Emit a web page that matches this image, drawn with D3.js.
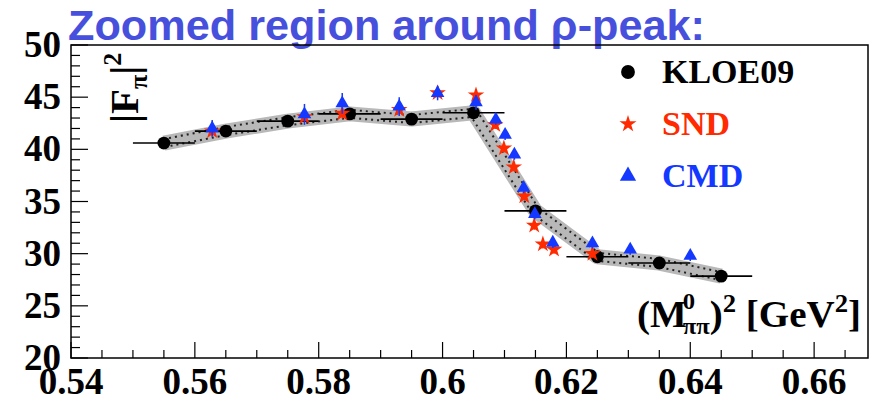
<!DOCTYPE html>
<html>
<head>
<meta charset="utf-8">
<script src="https://cdn.jsdelivr.net/npm/d3@7"></script>
<style>
  html, body { margin: 0; padding: 0; background: #fff; }
  svg { display: block; }
</style>
</head>
<body>
<svg id="chart" width="878" height="402"></svg>
<script>
// ---------------- data ----------------
const kloeX = [0.555, 0.565, 0.575, 0.585, 0.595, 0.605, 0.615, 0.625, 0.635, 0.645];
const kloeY = [40.6, 41.75, 42.7, 43.4, 42.9, 43.5, 34.1, 29.7, 29.1, 27.85];
const kloeHalfBin = [0.005, 0.005, 0.005, 0.005, 0.005, 0.005, 0.005, 0.005, 0.005, 0.005];

const sndX = [0.5628, 0.5777, 0.5838, 0.593, 0.5992, 0.6054, 0.6085, 0.6099, 0.6115, 0.6132, 0.6148, 0.6162, 0.618, 0.6242];
const sndY = [41.75, 43.1, 43.45, 43.8, 45.4, 45.2, 42.35, 40.1, 38.3, 35.5, 32.7, 30.9, 30.4, 30.0];
const sndErr = [0.5, 0.5, 0.5, 0.5, 0.5, 0.5, 0.4, 0.4, 0.4, 0.4, 0.4, 0.4, 0.4, 0.4];

const cmdX = [0.5628, 0.5777, 0.5838, 0.593, 0.5992, 0.6054, 0.6086, 0.6101, 0.6116, 0.6131, 0.6149, 0.6178, 0.6242, 0.6303, 0.640];
const cmdY = [42.0, 43.35, 44.4, 44.1, 45.4, 44.5, 42.85, 41.4, 39.5, 36.3, 33.8, 31.05, 31.0, 30.4, 29.8];
const cmdErr = [0.8, 1.0, 1.0, 0.9, 0.7, 0.7, 0.5, 0.5, 0.5, 0.5, 0.5, 0.5, 0.5, 0.5, 0.5];

const xMajorTicks = [0.54, 0.56, 0.58, 0.60, 0.62, 0.64, 0.66];
const xTickLabels = ["0.54", "0.56", "0.58", "0.6", "0.62", "0.64", "0.66"];
const yMajorTicks = [20, 25, 30, 35, 40, 45, 50];
const yTickLabels = ["20", "25", "30", "35", "40", "45", "50"];
const legendNames = ["KLOE09", "SND", "CMD"];

// ---------------- layout ----------------
const svg = d3.select("#chart");
const L = 71, R = 868, T = 45, B = 358;
const x = d3.scaleLinear().domain([0.54, 0.6687]).range([L, R]);
const y = d3.scaleLinear().domain([20, 50]).range([B, T]);

const RED = "#ff2a00", BLUE = "#1438ff", TITLE = "#4750dc";
const serif = "'Liberation Serif','DejaVu Serif',serif";

// title
svg.append("text")
  .attr("x", 68).attr("y", 40)
  .attr("font-family", "'Liberation Sans',Arial,sans-serif")
  .attr("font-weight", "bold").attr("font-size", 42)
  .attr("fill", TITLE)
  .attr("textLength", 637).attr("lengthAdjust", "spacingAndGlyphs")
  .text("Zoomed region around \u03C1-peak:");

// ---------------- band ----------------
const pts = kloeX.map((d, i) => [d, kloeY[i]]);
const bandLine = d3.line().x(d => x(d[0])).y(d => y(d[1])).curve(d3.curveLinear);
const g = svg.append("g");
g.append("path").attr("d", bandLine(pts)).attr("fill", "none")
  .attr("stroke", "#b8b8b8").attr("stroke-width", 15).attr("stroke-linejoin", "round");
g.append("path").attr("d", bandLine(pts)).attr("fill", "none")
  .attr("stroke", "#222").attr("stroke-width", 10).attr("stroke-dasharray", "2,4")
  .attr("stroke-linejoin", "round");
g.append("path").attr("d", bandLine(pts)).attr("fill", "none")
  .attr("stroke", "#b8b8b8").attr("stroke-width", 6).attr("stroke-linejoin", "round");

// ---------------- KLOE ----------------
svg.append("g").selectAll("line").data(kloeX).join("line")
  .attr("x1", (d, i) => x(d - kloeHalfBin[i])).attr("x2", (d, i) => x(d + kloeHalfBin[i]))
  .attr("y1", (d, i) => y(kloeY[i])).attr("y2", (d, i) => y(kloeY[i]))
  .attr("stroke", "#000").attr("stroke-width", 1.6);
svg.append("g").selectAll("path").data(kloeX).join("path")
  .attr("d", d3.symbol(d3.symbolCircle, 130)())
  .attr("transform", (d, i) => `translate(${x(d)},${y(kloeY[i])})`)
  .attr("fill", "#000");

// ---------------- SND ----------------
svg.append("g").selectAll("line").data(sndX).join("line")
  .attr("x1", d => x(d)).attr("x2", d => x(d))
  .attr("y1", (d, i) => y(sndY[i] - sndErr[i])).attr("y2", (d, i) => y(sndY[i] + sndErr[i]))
  .attr("stroke", RED).attr("stroke-width", 1.5);
svg.append("g").selectAll("path").data(sndX).join("path")
  .attr("d", d3.symbol(d3.symbolStar, 85)())
  .attr("transform", (d, i) => `translate(${x(d)},${y(sndY[i])})`)
  .attr("fill", RED);

// ---------------- CMD ----------------
svg.append("g").selectAll("line").data(cmdX).join("line")
  .attr("x1", d => x(d)).attr("x2", d => x(d))
  .attr("y1", (d, i) => y(cmdY[i] - cmdErr[i])).attr("y2", (d, i) => y(cmdY[i] + cmdErr[i]))
  .attr("stroke", BLUE).attr("stroke-width", 1.5);
svg.append("g").selectAll("path").data(cmdX).join("path")
  .attr("d", d3.symbol(d3.symbolTriangle, 80)())
  .attr("transform", (d, i) => `translate(${x(d)},${y(cmdY[i])})`)
  .attr("fill", BLUE);

// ---------------- frame & axes ----------------
svg.append("rect").attr("x", L).attr("y", T).attr("width", R - L).attr("height", B - T)
  .attr("fill", "none").attr("stroke", "#000").attr("stroke-width", 1.5);

const xMinor = d3.range(0, 26).map(i => 0.54 + i * 0.005);
svg.append("g").selectAll("line").data(xMinor).join("line")
  .attr("x1", d => x(d)).attr("x2", d => x(d))
  .attr("y1", B).attr("y2", (d, i) => i % 4 === 0 ? B - 16 : B - 8)
  .attr("stroke", "#000").attr("stroke-width", 1.2);
const yMinor = d3.range(20, 51);
svg.append("g").selectAll("line").data(yMinor).join("line")
  .attr("y1", d => y(d)).attr("y2", d => y(d))
  .attr("x1", L).attr("x2", d => d % 5 === 0 ? L + 17 : L + 9)
  .attr("stroke", "#000").attr("stroke-width", 1.2);

svg.append("g").selectAll("text").data(xMajorTicks).join("text")
  .attr("x", d => x(d)).attr("y", 394)
  .attr("text-anchor", "middle")
  .attr("font-family", serif).attr("font-weight", "bold").attr("font-size", 37)
  .text((d, i) => xTickLabels[i]);
svg.append("g").selectAll("text").data(yMajorTicks).join("text")
  .attr("x", 61).attr("y", d => y(d) + 12)
  .attr("text-anchor", "end")
  .attr("font-family", serif).attr("font-weight", "bold").attr("font-size", 37)
  .text((d, i) => yTickLabels[i]);

// y title |F_pi|^2
const yt = svg.append("text")
  .attr("transform", "translate(138,123) rotate(-90)")
  .attr("font-family", serif).attr("font-weight", "bold").attr("font-size", 41);
yt.append("tspan").text("|F");
yt.append("tspan").attr("font-size", 26).attr("dy", 9).text("\u03C0");
yt.append("tspan").attr("dy", -9).text("|");
yt.append("tspan").attr("font-size", 26).attr("dy", -17).text("2");

// x title (M^0_pipi)^2 [GeV^2]
const xt = svg.append("text")
  .attr("x", 637).attr("y", 327)
  .attr("font-family", serif).attr("font-weight", "bold").attr("font-size", 38)
  .attr("textLength", 224).attr("lengthAdjust", "spacingAndGlyphs");
xt.append("tspan").text("(M");
xt.append("tspan").attr("font-size", 24).attr("dy", -18).attr("dx", -4).text("0");
xt.append("tspan").attr("font-size", 24).attr("dy", 25).attr("dx", -12).text("\u03C0\u03C0");
xt.append("tspan").attr("dy", -7).text(")");
xt.append("tspan").attr("font-size", 26).attr("dy", -15).text("2");
xt.append("tspan").attr("dy", 15).text(" [GeV");
xt.append("tspan").attr("font-size", 26).attr("dy", -15).text("2");
xt.append("tspan").attr("dy", 15).text("]");

// ---------------- legend ----------------
const legSym = [d3.symbol(d3.symbolCircle, 150)(), d3.symbol(d3.symbolStar, 90)(), d3.symbol(d3.symbolTriangle, 115)()];
const legCol = ["#000", RED, BLUE];
const legY = [72, 124, 176];
legendNames.forEach((n, i) => {
  svg.append("path").attr("d", legSym[i]).attr("transform", `translate(628,${legY[i]})`).attr("fill", legCol[i]);
  svg.append("text").attr("x", 662).attr("y", legY[i] + 11)
    .attr("font-family", serif).attr("font-weight", "bold").attr("font-size", 34)
    .attr("fill", legCol[i]).text(n);
});
</script>
</body>
</html>
